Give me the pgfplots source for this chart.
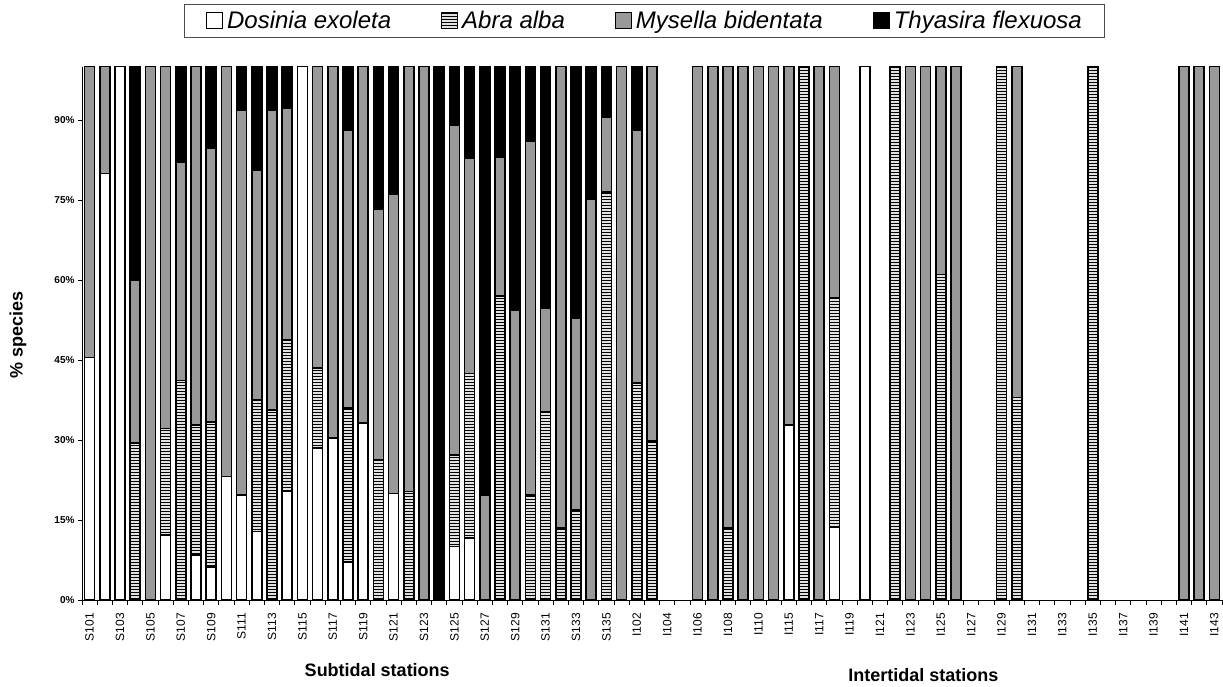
\documentclass[border=0pt]{standalone}
\usepackage{fontspec}
\setmainfont{Liberation Sans}
\usepackage{pgfplots}
\usepackage{pgfplotstable}
\pgfplotsset{compat=1.18}
\usetikzlibrary{patterns}

\pgfplotstableread{
x D A M T
0 45.5 0 54.5 0
1 80 0 20 0
2 100 0 0 0
3 0 29.4 30.6 40
4 0 0 100 0
5 12.2 20 67.8 0
6 0 41.2 40.8 18
7 8.4 24.4 67.2 0
8 6.2 27.2 51.3 15.3
9 23.2 0 76.8 0
10 19.7 0 72.2 8.1
11 12.8 24.7 43.1 19.4
12 0 35.6 56.3 8.1
13 20.3 28.5 43.4 7.8
14 100 0 0 0
15 28.5 15 56.5 0
16 30.4 0 69.6 0
17 7.1 28.9 52 12
18 33.2 0 66.8 0
19 0 26.3 47 26.7
20 20 0 56 24
21 0 20.3 79.7 0
22 0 0 100 0
23 0 0 0 100
24 10 17.2 61.8 11
25 11.6 30.9 40.3 17.2
26 0 0 19.7 80.3
27 0 57 26 17
28 0 0 54.4 45.6
29 0 19.7 66.3 14
30 0 35.3 19.4 45.3
31 0 13.5 86.5 0
32 0 16.9 36 47.1
33 0 0 75.2 24.8
34 0 76.5 14.1 9.4
35 0 0 100 0
36 0 40.7 47.4 11.9
37 0 29.8 70.2 0
40 0 0 100 0
41 0 0 100 0
42 0 13.5 86.5 0
43 0 0 100 0
44 0 0 100 0
45 0 0 100 0
46 32.8 0 67.2 0
47 0 100 0 0
48 0 0 100 0
49 13.7 42.9 43.4 0
51 100 0 0 0
53 0 100 0 0
54 0 0 100 0
55 0 0 100 0
56 0 61 39 0
57 0 0 100 0
60 0 100 0 0
61 0 38 62 0
66 0 100 0 0
72 0 0 100 0
73 0 0 100 0
74 0 0 100 0
}\data

\begin{document}
\begin{tikzpicture}
\begin{axis}[
  at={(0,0)}, anchor=south west,
  scale only axis, width=1140pt, height=533.3pt,
  ybar stacked, bar width=10pt,
  xmin=-0.5, xmax=74.5, ymin=0, ymax=100,
  clip=false,
  axis x line*=bottom, axis y line*=left,
  axis line style={black, line width=0.8pt, -},
  ytick={0,15,...,90},
  yticklabels={0\%,15\%,30\%,45\%,60\%,75\%,90\%},
  yticklabel style={font=\bfseries\fontsize{10}{12}\selectfont},
  xtick={0,2,...,74},
  xticklabels={S101,S103,S105,S107,S109,S111,S113,S115,S117,S119,S121,S123,S125,S127,S129,S131,S133,S135,I102,I104,I106,I108,I110,I115,I117,I119,I121,I123,I125,I127,I129,I131,I133,I135,I137,I139,I141,I143},
  xticklabel style={rotate=90, anchor=east, font=\fontsize{12}{14}\selectfont, inner xsep=9pt},
  minor xtick={-0.5,0.5,...,74.5},
  major x tick style={draw=none},
  minor x tick style={draw=black, line width=0.8pt},
  tick align=outside, major tick length=4pt, minor tick length=5pt,
  tick style={black, line width=0.8pt},
  ylabel={\% species},
  ylabel style={at={(axis description cs:-0.0561,0.497)}, anchor=center, font=\bfseries\fontsize{18}{20}\selectfont},
  every axis plot/.append style={draw=black, line width=1.5pt},
  legend columns=4,
  legend style={at={(axis description cs:0.493,1.0857)}, anchor=center,
    draw=black!70, line width=0.6pt, inner xsep=22pt, inner ysep=5pt,
    font=\itshape\fontsize{24}{26}\selectfont,
    nodes={inner xsep=0pt, inner ysep=2pt},
    /tikz/every odd column/.append style={column sep=4pt},
    /tikz/every even column/.append style={column sep=50pt}},
  legend image code/.code={\draw[#1, line width=1pt] (0pt,-8pt) rectangle (16pt,8pt);},
]
\addplot[fill=white, draw=black] table[x=x, y=D] {\data};
\addplot[fill=black!12, postaction={pattern=horizontal lines}] table[x=x, y=A] {\data};
\addplot[fill=black!40] table[x=x, y=M] {\data};
\addplot[fill=black] table[x=x, y=T] {\data};
\legend{Dosinia exoleta, Abra alba, Mysella bidentata, Thyasira flexuosa}
\node[font=\bfseries\fontsize{18}{20}\selectfont] at (axis description cs:0.259,-0.1313) {Subtidal stations};
\node[font=\bfseries\fontsize{18}{20}\selectfont] at (axis description cs:0.738,-0.1406) {Intertidal stations};
\end{axis}
\pgfresetboundingbox
\useasboundingbox (-82pt,-86pt) rectangle (1141pt,600pt);
\end{tikzpicture}
\end{document}
